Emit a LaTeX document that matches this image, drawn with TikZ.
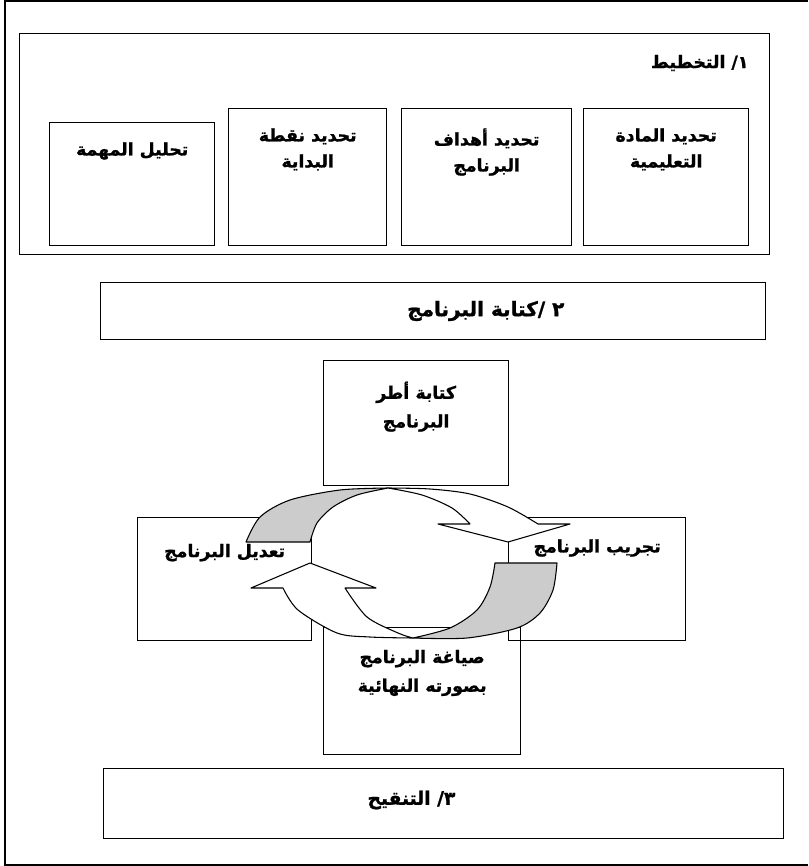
\documentclass[tikz,border=0pt]{standalone}
\usepackage{fontspec}
\usetikzlibrary{positioning}
\TeXXeTstate=1
\newfontfamily\arabicfont[Script=Arabic, BoldFeatures={FakeBold=1.2}]{DejaVu Sans}
\newcommand{\ar}[1]{{\arabicfont\bfseries\beginR #1\endR}}
\definecolor{bandgray}{RGB}{204,204,204}

\tikzset{
  box/.style={draw, line width=1pt, inner sep=0pt, anchor=north west},
  txt/.style={font=\fontsize{13}{19.5}\selectfont, align=center, inner sep=1pt},
  wide/.style={font=\fontsize{13}{21.5}\selectfont},
  band/.style={draw, line width=0.8pt, line join=round},
}

\begin{document}
\begin{tikzpicture}[x=0.75pt, y=-0.75pt]
	\useasboundingbox (0,0) rectangle (808,866);
	% outer frame
	\draw[line width=1.2pt] (808,1) -- (5,1) -- (5,865) -- (808,865);

	% 1/ planning
	\node[box, minimum width=750*0.75pt, minimum height=221*0.75pt] (plan) at (19,33) {};
	\node[txt, anchor=east] (plantitle) at (750,63) {\ar{١/ التخطيط}};
	\foreach \l/\w/\t/\h/\txt [count=\i] in {
		583/165/108/137/{\ar{تحديد المادة}\\\ar{التعليمية}},
		401/170/108/137/{\ar{تحديد أهداف}\\\ar{البرنامج}},
		228/158/108/137/{\ar{تحديد نقطة}\\\ar{البداية}},
		49/165/122/123/{\ar{تحليل المهمة}}}{
		\node[box, minimum width=\w*0.75pt, minimum height=\h*0.75pt] (p\i) at (\l,\t) {};
		\node[txt, below=14pt of p\i.north] (pt\i) {\txt};
	}

	% 2/ writing
	\node[box, minimum width=665*0.75pt, minimum height=57*0.75pt] (write) at (100,282) {};
	\node[txt, anchor=east, font=\fontsize{15}{18}\selectfont] (writetitle) at (566,311) {\ar{٢ /كتابة البرنامج}};

	\node[box, minimum width=185*0.75pt, minimum height=125*0.75pt] (frame) at (323,360) {};
	\node[txt, wide, below=15pt of frame.north] (frametxt) {\ar{كتابة أطر}\\\ar{البرنامج}};
	\node[box, minimum width=174*0.75pt, minimum height=123*0.75pt] (edit) at (137,517) {};
	\node[txt, below=19pt of edit.north] (edittxt) {\ar{تعديل البرنامج}};
	\node[box, minimum width=177*0.75pt, minimum height=123*0.75pt] (try) at (508,517) {};
	\node[txt, below=15.5pt of try.north] (trytxt) {\ar{تجريب البرنامج}};
	\node[box, minimum width=197*0.75pt, minimum height=127*0.75pt] (final) at (323,627) {};
	\node[txt, wide, below=16pt of final.north] (finaltxt) {\ar{صياغة البرنامج}\\\ar{بصورته النهائية}};

	% cycle arrows
	\filldraw[band, fill=bandgray] plot[smooth] coordinates {(246,542) (260,517) (290,500) (340,490) (388,488)}
		-- plot[smooth] coordinates {(388,488) (357,495) (333,507) (317,523) (310,542)} -- cycle;
	\filldraw[band, fill=white] plot[smooth] coordinates {(388,488) (430,489) (470,494) (508,507) (538,524)}
		-- (570,524) -- (508,542) -- (438,524)
		-- plot[smooth] coordinates {(470,524) (452,508) (422,495) (388,488)} -- cycle;
	\filldraw[band, fill=bandgray] (495,563)
		-- plot[smooth] coordinates {(557,563) (553,590) (540,613) (517,628) (467,638) (413,638)}
		-- plot[smooth] coordinates {(413,638) (450,628) (477,610) (490,587) (495,563)} -- cycle;
	\filldraw[band, fill=white] plot[smooth] coordinates {(413,638) (370,637) (337,633) (298,610) (283,588)}
		-- (251,588) -- (310,563) -- (376,588)
		-- plot[smooth] coordinates {(345,588) (367,617) (398,633) (413,638)} -- cycle;

	% 3/ revision
	\node[box, minimum width=680*0.75pt, minimum height=70*0.75pt] (revise) at (103,768) {};
	\node[txt, anchor=east, font=\fontsize{14}{18}\selectfont] (revisetitle) at (457,800) {\ar{٣/ التنقيح}};
\end{tikzpicture}
\end{document}
